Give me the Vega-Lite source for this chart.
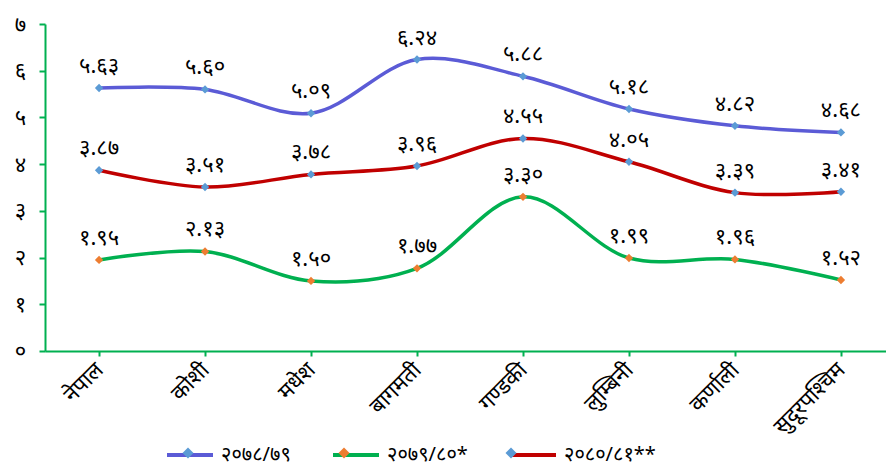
{
  "$schema": "https://vega.github.io/schema/vega-lite/v6.json",
  "width": 850,
  "height": 327,
  "autosize": {"type": "none"},
  "padding": {"left": 45, "top": 24, "right": 0, "bottom": 112},
  "config": {"view": {"stroke": null}, "font": "Noto Sans"},
  "data": {"values": [
    {"region": "नेपाल", "series": "२०७८/७९", "value": 5.63, "label": "५.६३"},
    {"region": "कोशी", "series": "२०७८/७९", "value": 5.60, "label": "५.६०"},
    {"region": "मधेश", "series": "२०७८/७९", "value": 5.09, "label": "५.०९"},
    {"region": "बागमती", "series": "२०७८/७९", "value": 6.24, "label": "६.२४"},
    {"region": "गण्डकी", "series": "२०७८/७९", "value": 5.88, "label": "५.८८"},
    {"region": "लुम्बिनी", "series": "२०७८/७९", "value": 5.18, "label": "५.१८"},
    {"region": "कर्णाली", "series": "२०७८/७९", "value": 4.82, "label": "४.८२"},
    {"region": "सुदूरपश्चिम", "series": "२०७८/७९", "value": 4.68, "label": "४.६८"},
    {"region": "नेपाल", "series": "२०७९/८०*", "value": 1.95, "label": "१.९५"},
    {"region": "कोशी", "series": "२०७९/८०*", "value": 2.13, "label": "२.१३"},
    {"region": "मधेश", "series": "२०७९/८०*", "value": 1.50, "label": "१.५०"},
    {"region": "बागमती", "series": "२०७९/८०*", "value": 1.77, "label": "१.७७"},
    {"region": "गण्डकी", "series": "२०७९/८०*", "value": 3.30, "label": "३.३०"},
    {"region": "लुम्बिनी", "series": "२०७९/८०*", "value": 1.99, "label": "१.९९"},
    {"region": "कर्णाली", "series": "२०७९/८०*", "value": 1.96, "label": "१.९६"},
    {"region": "सुदूरपश्चिम", "series": "२०७९/८०*", "value": 1.52, "label": "१.५२"},
    {"region": "नेपाल", "series": "२०८०/८१**", "value": 3.87, "label": "३.८७"},
    {"region": "कोशी", "series": "२०८०/८१**", "value": 3.51, "label": "३.५१"},
    {"region": "मधेश", "series": "२०८०/८१**", "value": 3.78, "label": "३.७८"},
    {"region": "बागमती", "series": "२०८०/८१**", "value": 3.96, "label": "३.९६"},
    {"region": "गण्डकी", "series": "२०८०/८१**", "value": 4.55, "label": "४.५५"},
    {"region": "लुम्बिनी", "series": "२०८०/८१**", "value": 4.05, "label": "४.०५"},
    {"region": "कर्णाली", "series": "२०८०/८१**", "value": 3.39, "label": "३.३९"},
    {"region": "सुदूरपश्चिम", "series": "२०८०/८१**", "value": 3.41, "label": "३.४१"}
  ]},
  "encoding": {
    "x": {
      "field": "region", "type": "nominal", "sort": null,
      "scale": {"type": "point", "padding": 0.51},
      "axis": {
        "title": null, "domainColor": "#00b050", "domainWidth": 2,
        "tickColor": "#00b050", "tickWidth": 2, "tickSize": 5,
        "labelAngle": -45, "labelAlign": "right", "labelBaseline": "middle",
        "labelFontSize": 22, "labelColor": "#000000", "labelPadding": 10, "grid": false
      }
    },
    "y": {
      "field": "value", "type": "quantitative",
      "scale": {"domain": [0, 7], "nice": false},
      "axis": {
        "title": null, "values": [0, 1, 2, 3, 4, 5, 6, 7],
        "labelExpr": "['०','१','२','३','४','५','६','७'][datum.value]",
        "domainColor": "#00b050", "domainWidth": 2,
        "tickColor": "#00b050", "tickWidth": 2, "tickSize": 6,
        "labelFontSize": 22, "labelColor": "#000000", "labelPadding": 19, "labelAlign": "center", "grid": false
      }
    }
  },
  "layer": [
    {
      "mark": {"type": "line", "interpolate": "catmull-rom", "strokeWidth": 3.5},
      "encoding": {
        "stroke": {
          "field": "series", "type": "nominal",
          "scale": {"domain": ["२०७८/७९", "२०७९/८०*", "२०८०/८१**"], "range": ["#5b5bd6", "#00b050", "#c00000"]},
          "legend": {
            "title": null, "orient": "none", "legendX": 120, "legendY": 406, "direction": "horizontal", "zindex": 1,
            "symbolType": "stroke", "symbolSize": 2116, "symbolStrokeWidth": 4,
            "labelFontSize": 20, "labelColor": "#000000", "labelOffset": 6, "columnPadding": 34
          }
        }
      }
    },
    {
      "mark": {"type": "point", "shape": "diamond", "filled": true, "size": 70, "opacity": 1},
      "encoding": {
        "fill": {
          "field": "series", "type": "nominal",
          "scale": {"range": ["#5b9bd5", "#ed7d31", "#5b9bd5"]},
          "legend": {
            "title": null, "orient": "none", "legendX": 120, "legendY": 406, "direction": "horizontal", "zindex": 2,
            "symbolType": "M0,-0.24L0.24,0L0,0.24L-0.24,0Z", "symbolSize": 2116, "symbolStrokeWidth": 0, "symbolOpacity": 1,
            "labelFontSize": 20, "labelColor": "transparent", "labelOffset": 6, "columnPadding": 34
          }
        }
      }
    },
    {
      "mark": {"type": "text", "baseline": "alphabetic", "dy": -15, "fontSize": 22, "color": "#000000"},
      "encoding": {"text": {"field": "label"}}
    }
  ]
}
